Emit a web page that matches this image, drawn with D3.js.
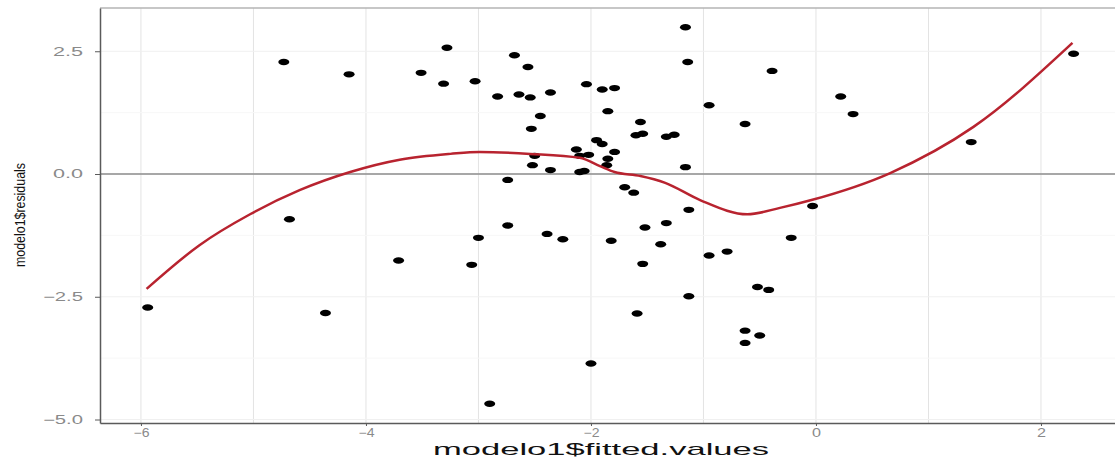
<!DOCTYPE html>
<html>
<head>
<meta charset="utf-8">
<script src="https://cdn.jsdelivr.net/npm/d3@7"></script>
<style>
  body { margin: 0; background: #fff; }
  text { font-family: "Liberation Sans", Arial, sans-serif; }
</style>
</head>
<body>
<div id="chart"></div>
<script>
// fitted values vs residuals
const fittedValues = [
  -4.73, -4.15, -4.68, -5.94, -4.36, -3.71, -3.51, -3.28, -3.31, -3.03,
  -2.68, -2.56, -2.83, -2.64, -2.54, -2.36, -2.45, -2.53, -2.04, -1.90,
  -1.79, -1.85, -1.16, -1.14, -0.95, -0.63, -0.39, -1.56, -1.60, -1.54,
  -1.33, -1.26, -1.95, -1.90, -2.13, -2.10, -2.02, -1.79, -1.85, -1.86,
  -2.50, -2.52, -2.36, -2.10, -2.06, -1.16, -2.74, -1.70, -1.62, -1.13,
  -1.33, -1.52, -2.74, 0.22, 0.33, 1.38, 2.29, -0.03, -3.00, -2.39,
  -2.25, -1.82, -1.38, -1.54, -3.06, -0.95, -0.79, -0.52, -0.42, -1.13,
  -1.59, -0.63, -0.63, -0.50, -2.00, -2.90, -0.22
];
const residuals = [
  2.28, 2.03, -0.92, -2.72, -2.83, -1.76, 2.06, 2.57, 1.84, 1.89,
  2.42, 2.18, 1.58, 1.62, 1.56, 1.66, 1.18, 0.92, 1.83, 1.72,
  1.75, 1.28, 2.99, 2.28, 1.40, 1.02, 2.10, 1.06, 0.79, 0.82,
  0.76, 0.80, 0.69, 0.61, 0.50, 0.37, 0.39, 0.45, 0.31, 0.18,
  0.37, 0.18, 0.08, 0.04, 0.06, 0.14, -0.12, -0.27, -0.38, -0.73,
  -1.00, -1.09, -1.05, 1.58, 1.22, 0.65, 2.45, -0.65, -1.30, -1.22,
  -1.33, -1.36, -1.43, -1.83, -1.85, -1.66, -1.58, -2.30, -2.36, -2.49,
  -2.84, -3.19, -3.44, -3.29, -3.86, -4.68, -1.30
];

// smoother line
const smoothX = [-5.95, -5.48, -5.03, -4.59, -4.14, -3.70, -3.25, -2.99, -2.54, -2.10,
                 -1.92, -1.79, -1.56, -1.34, -1.03, -0.61, -0.32, -0.04, 0.66, 1.40, 2.28];
const smoothY = [-2.34, -1.45, -0.82, -0.33, 0.04, 0.29, 0.41, 0.45, 0.41, 0.33,
                 0.16, 0.04, -0.04, -0.18, -0.53, -0.82, -0.69, -0.53, 0.02, 0.96, 2.67];

const xTicks = [-6, -4, -2, 0, 2];
const xMinor = [-5, -3, -1, 1];
const yTicks = [2.5, 0, -2.5, -5];
const yMinor = [1.25, -1.25, -3.75];

const W = 1115, H = 458;
const pLeft = 100, pRight = 1115, pTop = 8, pBottom = 423;

const svg = d3.select("#chart").append("svg")
  .attr("width", W)
  .attr("height", H);

const x = d3.scaleLinear().domain([-6.364, 2.658]).range([pLeft, pRight]);
const y = d3.scaleLinear().domain([-5.071, 3.381]).range([pBottom, pTop]);

// grid
svg.append("g").selectAll("line")
  .data(xTicks.concat(xMinor))
  .enter().append("line")
  .attr("x1", d => x(d)).attr("x2", d => x(d))
  .attr("y1", pTop).attr("y2", pBottom)
  .attr("stroke", "#e3e3e3").attr("stroke-width", 1);

svg.append("g").selectAll("line")
  .data(yTicks.concat(yMinor))
  .enter().append("line")
  .attr("x1", pLeft).attr("x2", pRight)
  .attr("y1", d => y(d)).attr("y2", d => y(d))
  .attr("stroke", d => yMinor.includes(d) ? "#f7f7f7" : "#f0f0f0")
  .attr("stroke-width", 1);

// panel border top
svg.append("line")
  .attr("x1", pLeft).attr("x2", pRight)
  .attr("y1", pTop).attr("y2", pTop)
  .attr("stroke", "#b5b5b5").attr("stroke-width", 1.5);

// reference line at zero
svg.append("line")
  .attr("x1", pLeft).attr("x2", pRight)
  .attr("y1", y(0)).attr("y2", y(0))
  .attr("stroke", "#8c8c8c").attr("stroke-width", 1.3);

// axes
const xAxis = svg.append("g")
  .attr("transform", "translate(0," + pBottom + ")")
  .call(d3.axisBottom(x).tickValues(xTicks).tickSizeInner(3).tickSizeOuter(0).tickPadding(2).tickFormat(d3.format("d")));
xAxis.select(".domain").attr("stroke", "#5a5a5a").attr("stroke-width", 1.5);
xAxis.selectAll(".tick line").attr("stroke", "#5a5a5a");
xAxis.selectAll("text")
  .attr("fill", "#8a8a8a")
  .style("font-size", "12px")
  .attr("textLength", d => d < 0 ? 16 : 9)
  .attr("lengthAdjust", "spacingAndGlyphs");

const yAxis = svg.append("g")
  .attr("transform", "translate(" + pLeft + ",0)")
  .call(d3.axisLeft(y).tickValues(yTicks).tickSizeInner(5).tickSizeOuter(0).tickPadding(12).tickFormat(d3.format(".1f")));
yAxis.select(".domain").attr("stroke", "#5a5a5a").attr("stroke-width", 1.5);
yAxis.selectAll(".tick line").attr("stroke", "#5a5a5a");
yAxis.selectAll("text")
  .attr("fill", "#8a8a8a")
  .style("font-size", "12px")
  .attr("textLength", d => d < 0 ? 40 : 30)
  .attr("lengthAdjust", "spacingAndGlyphs");

// points
const pts = fittedValues.map((v, i) => ({ fx: v, r: residuals[i] }));
svg.append("g").selectAll("ellipse")
  .data(pts)
  .enter().append("ellipse")
  .attr("cx", d => x(d.fx))
  .attr("cy", d => y(d.r))
  .attr("rx", 5.5)
  .attr("ry", 3.2)
  .attr("fill", "#000");

// smooth curve
const smooth = smoothX.map((v, i) => [v, smoothY[i]]);
svg.append("path")
  .datum(smooth)
  .attr("fill", "none")
  .attr("stroke", "#b8232f")
  .attr("stroke-width", 2.5)
  .attr("d", d3.line().x(d => x(d[0])).y(d => y(d[1])).curve(d3.curveMonotoneX));

// axis titles
svg.append("text")
  .attr("x", 601).attr("y", 455)
  .attr("text-anchor", "middle")
  .attr("fill", "#111")
  .style("font-size", "17px")
  .attr("textLength", 336)
  .attr("lengthAdjust", "spacingAndGlyphs")
  .text("modelo1$fitted.values");

svg.append("text")
  .attr("transform", "translate(25,215) rotate(-90)")
  .attr("text-anchor", "middle")
  .attr("fill", "#111")
  .style("font-size", "15px")
  .attr("textLength", 104)
  .attr("lengthAdjust", "spacingAndGlyphs")
  .text("modelo1$residuals");
</script>
</body>
</html>
